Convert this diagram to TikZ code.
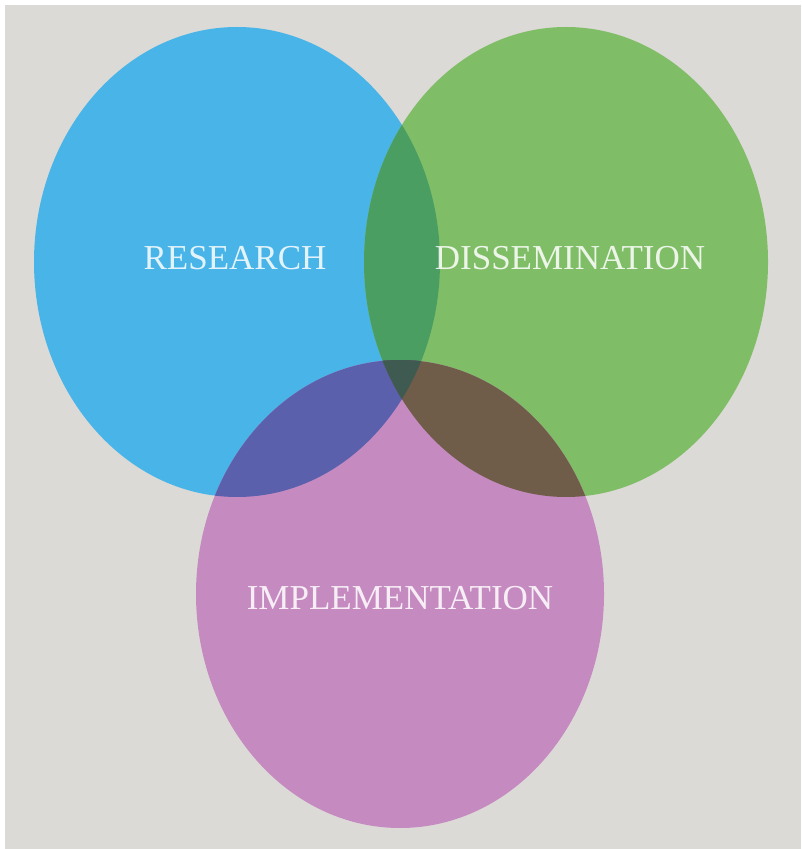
\documentclass[tikz,border=0pt]{standalone}
\usepackage{fontspec}
\setmainfont{Liberation Serif}
\definecolor{bgray}{HTML}{DCDAD6}
\definecolor{resblue}{HTML}{48B4E8}
\definecolor{disgreen}{HTML}{80BD67}
\definecolor{impviolet}{HTML}{C58BC1}
\definecolor{bgmix}{HTML}{4B9E62}
\definecolor{bvmix}{HTML}{5A60AB}
\definecolor{gvmix}{HTML}{6F5D4A}
\definecolor{allmix}{HTML}{3F5A50}
\begin{document}
\begin{tikzpicture}[x=0.5pt, y=-0.5pt,
        label/.style={font=\fontsize{17.5}{19}\selectfont, text=white, text opacity=0.85}
    ]
    % Background
    \fill[white] (0,0) rectangle (801,849);
    \fill[bgray] (5,5) rectangle (801,849);
    \useasboundingbox (0,0) rectangle (801,849);
    % Circles
    \def\blueset{(237,262) ellipse [x radius=203, y radius=235]}
    \def\greenset{(566,262) ellipse [x radius=202, y radius=235]}
    \def\violetset{(400,594) ellipse [x radius=204, y radius=234]}
    \fill[resblue] \blueset;
    \fill[disgreen] \greenset;
    \fill[impviolet] \violetset;
    % Overlaps
    \begin{scope}
        \clip \blueset;
        \fill[bgmix] \greenset;
        \fill[bvmix] \violetset;
        \clip \greenset;
        \fill[allmix] \violetset;
    \end{scope}
    \begin{scope}
        \clip \greenset;
        \clip \violetset;
        \fill[gvmix] \greenset;
        \clip \blueset;
        \fill[allmix] \violetset;
    \end{scope}
    % Labels
    \node[label] (research) at (235,258) {RESEARCH};
    \node[label] (dissemination) at (570,258) {DISSEMINATION};
    \node[label] (implementation) at (400,598) {IMPLEMENTATION};
\end{tikzpicture}
\end{document}
